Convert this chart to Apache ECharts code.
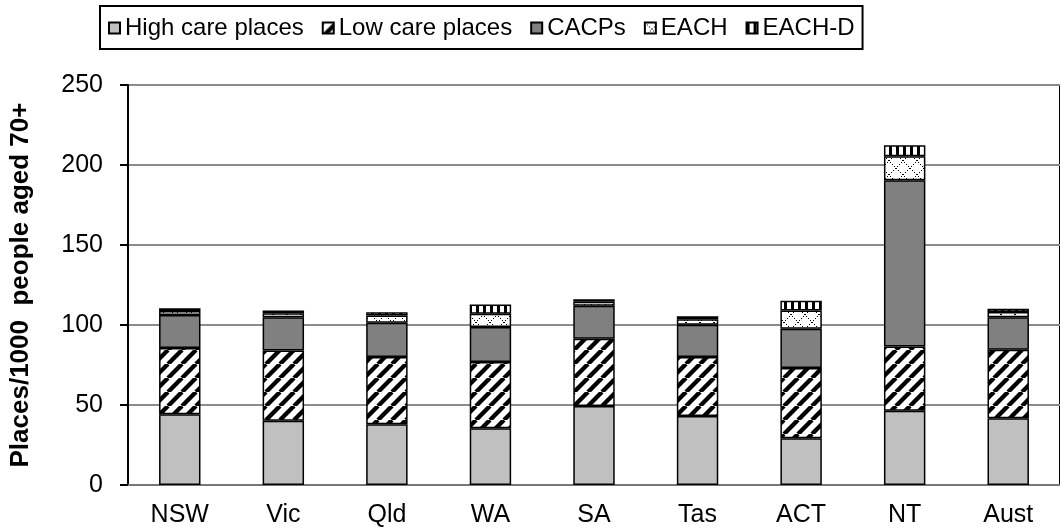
<!DOCTYPE html>
<html>
<head>
<meta charset="utf-8">
<script src="https://cdn.jsdelivr.net/npm/echarts@6/dist/echarts.min.js"></script>
<style>
  html, body { margin: 0; padding: 0; background: #fff; }
  #chart { width: 1060px; height: 528px; }
</style>
</head>
<body>
<div id="chart"></div>
<script>
// values (places per 1000 people aged 70+)
const categories = ['NSW', 'Vic', 'Qld', 'WA', 'SA', 'Tas', 'ACT', 'NT', 'Aust']
const highCare = [44.2, 40.2, 37.9, 35.4, 49.3, 43.1, 29.2, 46.4, 41.7]
const lowCare = [41.4, 43.9, 42.1, 41.5, 42.1, 36.9, 44.0, 40.2, 42.9]
const cacps = [20.7, 20.8, 21.4, 21.8, 20.7, 20.1, 24.4, 103.9, 20.3]
const each = [2.4, 2.5, 4.5, 8.3, 2.4, 3.5, 11.4, 14.9, 3.2]
const eachD = [1.8, 1.6, 2.1, 5.8, 1.6, 1.9, 6.2, 6.9, 2.0]
const yTicks = [0, 50, 100, 150, 200, 250]

const FONT = '"Liberation Sans", Arial, sans-serif'

function makePattern(w, h, draw) {
  const c = document.createElement('canvas')
  c.width = w
  c.height = h
  const ctx = c.getContext('2d')
  ctx.fillStyle = '#fff'
  ctx.fillRect(0, 0, w, h)
  draw(ctx, w, h)
  return { image: c, repeat: 'repeat' }
}

// wide "/" stripes
const stripes = makePattern(14, 14, (ctx, w, h) => {
  ctx.strokeStyle = '#000'
  ctx.lineWidth = 4.4
  for (let k = -1; k <= 1; k++) {
    ctx.beginPath()
    ctx.moveTo(k * w, h)
    ctx.lineTo(k * w + w, 0)
    ctx.stroke()
  }
})

// dotted diamond hatch
const hatch = makePattern(14, 14, (ctx, w, h) => {
  ctx.fillStyle = '#000'
  for (let i = 0; i < w; i += 2) {
    ctx.fillRect(i, i, 1, 1)
    ctx.fillRect(w - 1 - i, i, 1, 1)
  }
})

// vertical bars
const vbars = makePattern(7, 7, (ctx, w, h) => {
  ctx.fillStyle = '#000'
  ctx.fillRect(0, 0, 3, h)
})

const border = { borderColor: '#000', borderWidth: 1.5 }

function stackSeries(name, data, color) {
  return {
    name,
    type: 'bar',
    stack: 'total',
    data,
    barWidth: '40%',
    itemStyle: Object.assign({ color }, border)
  }
}

const chart = echarts.init(document.getElementById('chart'), null, { renderer: 'canvas' })

chart.setOption({
  animation: false,
  textStyle: { fontFamily: FONT },
  legend: {
    left: 100,
    top: 6,
    padding: [10, 8, 9, 8],
    borderColor: '#000',
    borderWidth: 2,
    icon: 'rect',
    itemWidth: 11,
    itemHeight: 11,
    itemGap: 18,
    textStyle: { fontFamily: FONT, fontSize: 24, color: '#000' },
    data: ['High care places', 'Low care places', 'CACPs', 'EACH', 'EACH-D']
  },
  grid: {
    left: 127,
    top: 85,
    right: -13,
    bottom: 41,
    show: true,
    borderColor: '#000',
    borderWidth: 2
  },
  xAxis: {
    type: 'category',
    data: categories,
    axisLine: { lineStyle: { color: '#777', width: 2 } },
    axisTick: { length: 9, lineStyle: { color: '#888', width: 2 } },
    axisLabel: { color: '#000', fontSize: 25, margin: 18, fontFamily: FONT }
  },
  yAxis: {
    type: 'value',
    min: yTicks[0],
    max: yTicks[yTicks.length - 1],
    interval: yTicks[1] - yTicks[0],
    name: 'Places/1000  people aged 70+',
    nameLocation: 'middle',
    nameGap: 94,
    nameTextStyle: { color: '#000', fontSize: 26, fontWeight: 'bold', fontFamily: FONT },
    axisLine: { show: true, lineStyle: { color: '#000', width: 2 } },
    axisTick: { show: true, length: 8, lineStyle: { color: '#000', width: 2 } },
    axisLabel: { color: '#000', fontSize: 25, margin: 25, fontFamily: FONT },
    splitLine: { lineStyle: { color: '#8c8c8c', width: 2 } }
  },
  series: [
    stackSeries('High care places', highCare, '#c0c0c0'),
    stackSeries('Low care places', lowCare, stripes),
    stackSeries('CACPs', cacps, '#808080'),
    stackSeries('EACH', each, hatch),
    stackSeries('EACH-D', eachD, vbars)
  ]
})
</script>
</body>
</html>
